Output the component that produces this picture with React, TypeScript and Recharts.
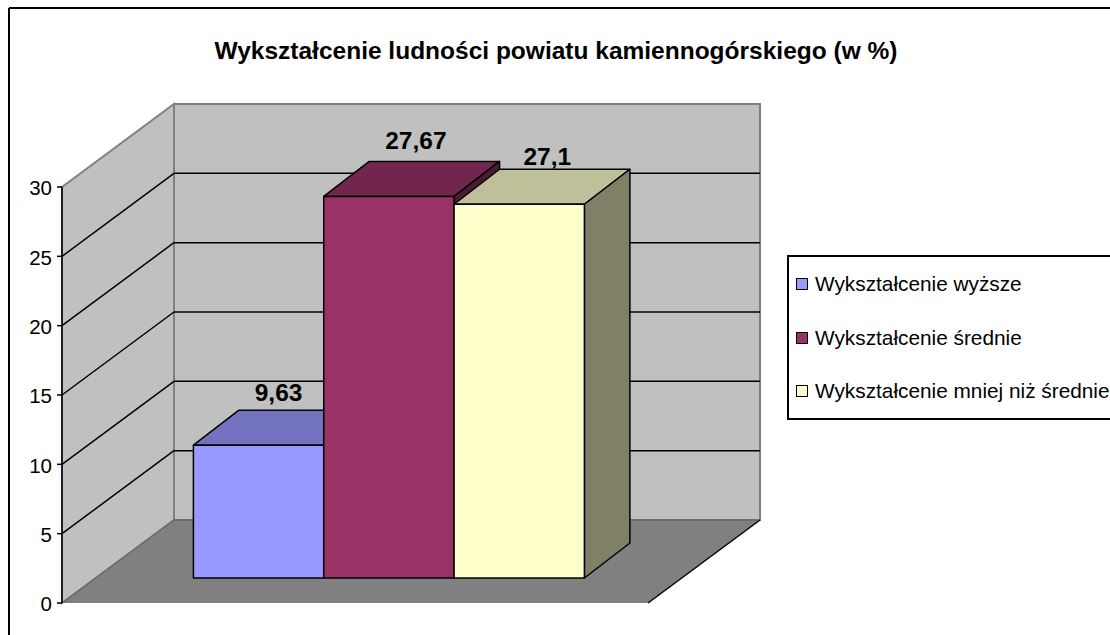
import React from 'react';
import { ComposedChart, Bar, XAxis, YAxis, Legend, LabelList } from 'recharts';

const categories = ['Powiat kamiennogórski'];
const seriesNames = ['Wykształcenie wyższe', 'Wykształcenie średnie', 'Wykształcenie mniej niż średnie'];
const seriesKeys = ['wyzsze', 'srednie', 'mniej'];
const seriesValues = [9.63, 27.67, 27.1];
const seriesColors = ['#9999FF', '#993366', '#FFFFCC'];
const topColors = ['#7373BF', '#73264D', '#BFBF99'];
const sideColors = ['#4D4D80', '#4D1A33', '#808066'];
const yTicks = [0, 5, 10, 15, 20, 25, 30];
const chartTitle = 'Wykształcenie ludności powiatu kamiennogórskiego (w %)';

const data = categories.map((name) => {
  const row: Record<string, any> = { name };
  seriesKeys.forEach((k, i) => (row[k] = seriesValues[i]));
  return row;
});

const W = 1110, H = 635;
const L = 62, R = 648, T = 187, B = 603;
const WALL_DX = 112, WALL_DY = 83;
const BAR_DX = 33.4, BAR_DY = 25;
const TOP_DX = 45.5, TOP_DY = 35;
const BAR_SCALE = 0.9945;
const labelShift = [[20, -53], [27, -56], [28, -48]];
const FONT = '"Liberation Sans", Arial, sans-serif';

const yOf = (v: number) => B - (v / 30) * (B - T);

function Walls() {
  return (
    <g>
      <polygon points={`${L},${T} ${L + WALL_DX},${T - WALL_DY} ${L + WALL_DX},${B - WALL_DY} ${L},${B}`} fill="#C0C0C0" stroke="#808080" strokeWidth={2} />
      <rect x={L + WALL_DX} y={T - WALL_DY} width={R - L} height={B - T} fill="#C0C0C0" stroke="#808080" strokeWidth={2} />
      <polygon points={`${L},${B} ${R},${B} ${R + WALL_DX},${B - WALL_DY} ${L + WALL_DX},${B - WALL_DY}`} fill="#808080" />
      <line x1={L} y1={B} x2={L + WALL_DX} y2={B - WALL_DY} stroke="#6a6a6a" strokeWidth={1.5} />
      <line x1={L + WALL_DX} y1={B - WALL_DY} x2={R + WALL_DX} y2={B - WALL_DY} stroke="#666666" strokeWidth={1.5} />
      <line x1={R} y1={B} x2={R + WALL_DX} y2={B - WALL_DY} stroke="#000" strokeWidth={1.5} />
      {yTicks.filter((t) => t > 0 && t < 30).map((t) => (
        <g key={t}>
          <line x1={L} y1={yOf(t)} x2={L + WALL_DX} y2={yOf(t) - WALL_DY} stroke="#000" strokeWidth={1.5} />
          <line x1={L + WALL_DX} y1={yOf(t) - WALL_DY} x2={R + WALL_DX} y2={yOf(t) - WALL_DY} stroke="#000" strokeWidth={1.5} />
        </g>
      ))}
      <text x={556} y={59} textAnchor="middle" fontFamily={FONT} fontSize={24.5} fontWeight={700} fill="#000">{chartTitle}</text>
      <line x1={9} y1={8} x2={W} y2={8} stroke="#000" strokeWidth={2} />
      <line x1={9} y1={8} x2={9} y2={H} stroke="#000" strokeWidth={2} />
    </g>
  );
}

const makeShape = (index: number) => (props: any) => {
  const w = props.width;
  const h = props.height * BAR_SCALE;
  const x0 = props.x + BAR_DX;
  const y0 = props.y + props.height - h - BAR_DY;
  return (
    <g stroke="#000" strokeWidth={1.5} strokeLinejoin="round">
      <polygon points={`${x0},${y0} ${x0 + TOP_DX},${y0 - TOP_DY} ${x0 + w + TOP_DX},${y0 - TOP_DY} ${x0 + w},${y0}`} fill={topColors[index]} />
      <polygon points={`${x0 + w},${y0} ${x0 + w + TOP_DX},${y0 - TOP_DY} ${x0 + w + TOP_DX},${y0 + h - TOP_DY} ${x0 + w},${y0 + h}`} fill={sideColors[index]} />
      <rect x={x0} y={y0} width={w} height={h} fill={seriesColors[index]} />
    </g>
  );
};

const makeLabel = (index: number) => (props: any) => {
  const cx = props.x + props.width / 2 + BAR_DX + labelShift[index][0];
  const cy = props.y + props.height * (1 - BAR_SCALE) - BAR_DY + labelShift[index][1];
  return (
    <text x={cx} y={cy} textAnchor="middle" dominantBaseline="central" fontFamily={FONT} fontSize={24.5} fontWeight={700} fill="#000">
      {String(props.value).replace('.', ',')}
    </text>
  );
};

function LegendBox({ payload }: any) {
  return (
    <div style={{ boxSizing: 'border-box', width: W - 787, height: 165, borderTop: '2px solid #000', borderLeft: '2px solid #000', borderBottom: '2px solid #000', background: '#fff', fontFamily: FONT, fontSize: 20.8, color: '#000', position: 'relative' }}>
      {(payload || []).map((p: any, i: number) => (
        <div key={p.value} style={{ position: 'absolute', left: 7, top: 15 + i * 53.5, height: 24, display: 'flex', alignItems: 'center', whiteSpace: 'nowrap' }}>
          <span style={{ boxSizing: 'border-box', display: 'inline-block', width: 12, height: 12, background: p.color, border: '1.5px solid #000', marginRight: 7 }} />
          <span>{p.value}</span>
        </div>
      ))}
    </div>
  );
}

export default function App() {
  return (
    <div style={{ position: 'absolute', left: 0, top: 0, width: W, height: H, overflow: 'hidden', background: '#fff' }}>
      <ComposedChart width={W} height={H} data={data} barGap={0} barSize={130.33}
        margin={{ top: T, right: W - R, bottom: H - B, left: 0 }}>
        <Walls />
        <XAxis dataKey="name" tick={false} tickLine={false} axisLine={{ stroke: '#000', strokeWidth: 1.5 }} height={0} />
        <YAxis width={L} domain={[0, 30]} ticks={yTicks} interval={0} tickSize={5} tickMargin={5}
          axisLine={{ stroke: '#000', strokeWidth: 1.5 }} tickLine={{ stroke: '#000', strokeWidth: 1.5 }}
          tick={{ fill: '#000', fontSize: 20.5, fontFamily: FONT, dy: 1 }} />
        <Legend layout="vertical" align="center" verticalAlign="middle" itemSorter={null} content={<LegendBox />}
          wrapperStyle={{ position: 'absolute', left: 787, top: 255, width: W - 787, height: 165 }} />
        {seriesKeys.map((k, i) => (
          <Bar key={k} dataKey={k} name={seriesNames[i]} fill={seriesColors[i]} shape={makeShape(i)} isAnimationActive={false}>
            <LabelList dataKey={k} content={makeLabel(i)} />
          </Bar>
        ))}
      </ComposedChart>
    </div>
  );
}
